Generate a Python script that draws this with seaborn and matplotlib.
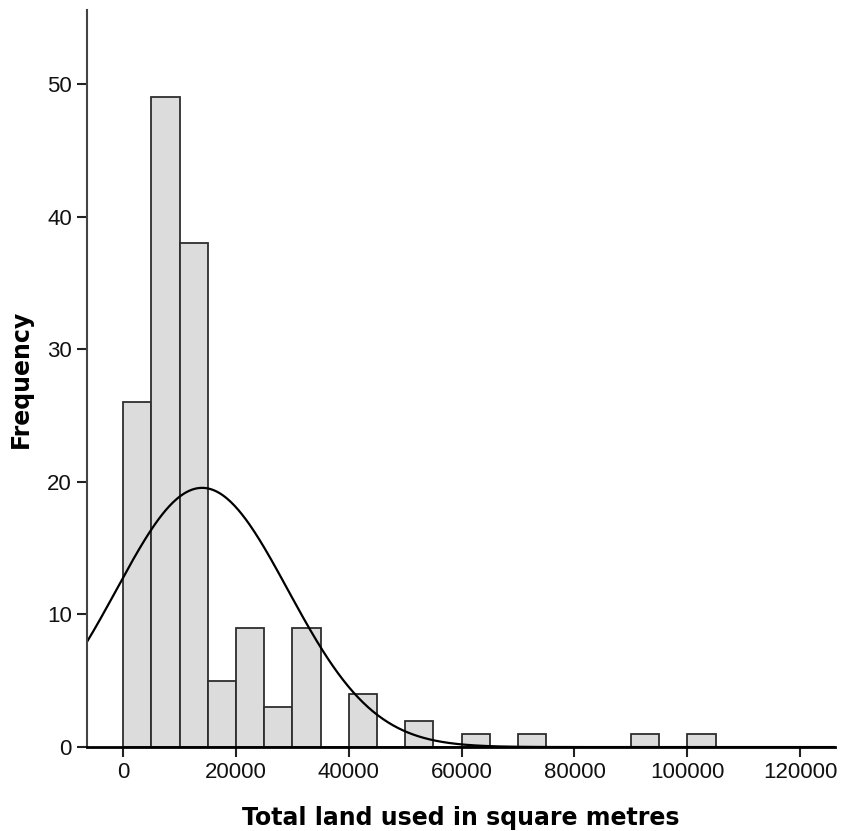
import numpy as np
import pandas as pd
import matplotlib
matplotlib.use("Agg")
import matplotlib.pyplot as plt
import seaborn as sns

# Histogram bins (square metres) and frequencies
bin_left = [0, 5000, 10000, 15000, 20000, 25000, 30000, 35000, 40000, 45000,
            50000, 55000, 60000, 65000, 70000, 75000, 80000, 85000, 90000, 95000, 100000]
counts = [26, 49, 38, 5, 9, 3, 9, 0, 4, 0, 2, 0, 1, 0, 1, 0, 0, 0, 1, 0, 1]
bin_width = 5000
# Fitted normal curve parameters
curve_mean = 14000
curve_sd = 15200
x_ticks = [0, 20000, 40000, 60000, 80000, 100000, 120000]
y_ticks = [0, 10, 20, 30, 40, 50]

sns.set_style("white")
plt.rcParams['font.family'] = ['Liberation Sans', 'DejaVu Sans']

fig = plt.figure(figsize=(8.41, 8.31), dpi=100)
ax = fig.add_axes([0.1035, 0.101, 0.8895, 0.887])

df = pd.DataFrame({"x": [b + bin_width / 2 for b in bin_left], "w": counts})
edges = bin_left + [bin_left[-1] + bin_width]
sns.histplot(data=df, x="x", weights="w", bins=edges, ax=ax,
             color="#dcdcdc", edgecolor="#2e2e2e", linewidth=1.3, alpha=1)

n_total = sum(counts)
xs = np.linspace(-6400, 126200, 600)
ys = n_total * bin_width / (curve_sd * np.sqrt(2 * np.pi)) * np.exp(-0.5 * ((xs - curve_mean) / curve_sd) ** 2)
sns.lineplot(x=xs, y=ys, ax=ax, color="black", linewidth=1.6)

ax.set_xlim(-6400, 126200)
ax.set_ylim(0, 55.6)
ax.set_xticks(x_ticks)
ax.set_xticklabels([str(t) for t in x_ticks])
ax.set_yticks(y_ticks)
for s in ["top", "right"]:
    ax.spines[s].set_visible(False)
ax.spines["left"].set_color("#444444")
ax.spines["left"].set_linewidth(1.5)
ax.spines["bottom"].set_color("black")
ax.spines["bottom"].set_linewidth(2)
ax.tick_params(axis="both", direction="out", length=7, width=1.5, color="#222222",
               labelsize=16, labelcolor="#111111", bottom=True, left=True, pad=4)
lab_font = dict(family="DejaVu Sans", fontsize=17, fontweight="bold", color="black")
ax.set_xlabel("Total land used in square metres", labelpad=16, **lab_font)
ax.set_ylabel("Frequency", labelpad=10, **lab_font)

fig.savefig("out.png", dpi=100)
